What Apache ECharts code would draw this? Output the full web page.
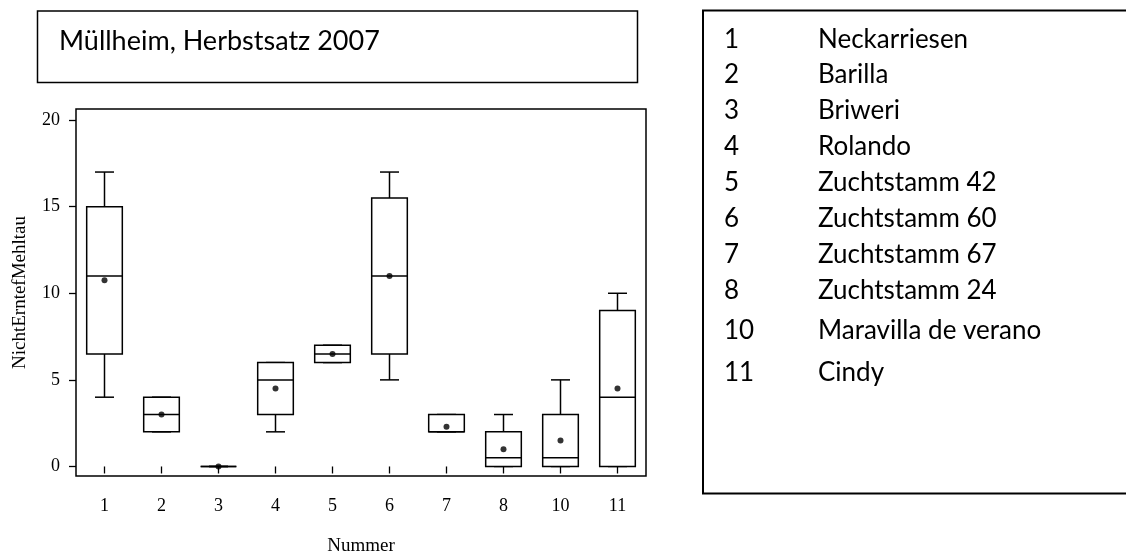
<!DOCTYPE html>
<html>
<head>
<meta charset="utf-8">
<script src="https://cdn.jsdelivr.net/npm/echarts@6/dist/echarts.min.js"></script>
<style>html,body{margin:0;padding:0;background:#fff;}#c{width:1126px;height:554px;}</style>
</head>
<body>
<div id="c"></div>
<script>
// ---- data ----
var categories = ['1','2','3','4','5','6','7','8','10','11'];
var mins    = [4,   2, 0, 2, 6,   5,    2,   0,   0,   0];
var q1s     = [6.5, 2, 0, 3, 6,   6.5,  2,   0,   0,   0];
var medians = [11,  3, 0, 5, 6.5, 11,   2,   0.5, 0.5, 4];
var q3s     = [15,  4, 0, 6, 7,   15.5, 3,   2,   3,   9];
var maxs    = [17,  4, 0, 6, 7,   17,   3,   3,   5,   10];
var means   = [10.75, 3, 0, 4.5, 6.5, 11, 2.3, 1, 1.5, 4.5];
var yTicks  = [0, 5, 10, 15, 20];
var varietyNames = ['Neckarriesen','Barilla','Briweri','Rolando','Zuchtstamm 42','Zuchtstamm 60','Zuchtstamm 67','Zuchtstamm 24','Maravilla de verano','Cindy'];
var titleText = 'Müllheim, Herbstsatz 2007';

var boxData = categories.map(function (c, i) { return [i, mins[i], q1s[i], medians[i], q3s[i], maxs[i]]; });
var meanData = categories.map(function (c, i) { return [i, means[i]]; });

var serif = '"Liberation Serif", "DejaVu Serif", serif';
var sans = 'Lato, "Open Sans", sans-serif';

var legendRowY = [40, 75, 111, 147, 183, 219, 255, 291, 331, 373];
var graphics = [
  { type: 'rect', shape: { x: 37.5, y: 11, width: 600, height: 71.5 }, style: { fill: 'none', stroke: '#000', lineWidth: 1.5 } },
  { type: 'text', style: { x: 59, y: 41, text: titleText, font: '27px ' + sans, fill: '#000', verticalAlign: 'middle' } },
  { type: 'rect', shape: { x: 703, y: 10.5, width: 430, height: 483 }, style: { fill: 'none', stroke: '#000', lineWidth: 2 } }
];
categories.forEach(function (c, i) {
  graphics.push({ type: 'text', style: { x: 724, y: legendRowY[i], text: c, font: '26px ' + sans, fill: '#000', verticalAlign: 'middle' } });
  graphics.push({ type: 'text', style: { x: 818, y: legendRowY[i], text: varietyNames[i], font: '26px ' + sans, fill: '#000', verticalAlign: 'middle' } });
});

var chart = echarts.init(document.getElementById('c'), null, { renderer: 'canvas' });
chart.setOption({
  animation: false,
  backgroundColor: '#fff',
  grid: { left: 76, top: 109, right: 480, bottom: 78, containLabel: false, outerBoundsMode: 'none', show: true, borderColor: '#000', borderWidth: 1.5, backgroundColor: 'transparent' },
  xAxis: {
    type: 'category',
    data: categories,
    boundaryGap: true,
    name: 'Nummer',
    nameLocation: 'middle',
    nameGap: 61,
    nameTextStyle: { fontFamily: serif, fontSize: 19, color: '#000' },
    axisLine: { show: false },
    axisTick: { show: true, alignWithLabel: true, length: 7, lineStyle: { color: '#000', width: 1.3 } },
    axisLabel: { fontFamily: serif, fontSize: 18, color: '#000', margin: 21 },
    splitLine: { show: false }
  },
  yAxis: {
    type: 'value',
    min: -0.55,
    max: 20.64,
    name: 'NichtErntefMehltau',
    nameLocation: 'middle',
    nameGap: 46,
    nameRotate: 90,
    nameTextStyle: { fontFamily: serif, fontSize: 19, color: '#000' },
    axisLine: { show: false },
    axisTick: { show: true, length: 7, customValues: yTicks, lineStyle: { color: '#000', width: 1.3 } },
    axisLabel: { fontFamily: serif, fontSize: 18, color: '#000', margin: 16, customValues: yTicks },
    splitLine: { show: false }
  },
  graphic: graphics,
  series: [
    {
      type: 'custom',
      data: boxData,
      encode: { x: 0, y: [1, 2, 3, 4, 5] },
      renderItem: function (params, api) {
        var i = api.value(0);
        var pMin = api.coord([i, api.value(1)]);
        var pQ1 = api.coord([i, api.value(2)]);
        var pMed = api.coord([i, api.value(3)]);
        var pQ3 = api.coord([i, api.value(4)]);
        var pMax = api.coord([i, api.value(5)]);
        var w = api.size([1, 0])[0];
        var hb = w * 0.3125, hc = w * 0.167;
        var cx = pMin[0];
        var st = { stroke: '#000', lineWidth: 1.5, fill: 'none' };
        return {
          type: 'group',
          children: [
            { type: 'line', shape: { x1: cx, y1: pMin[1], x2: cx, y2: pQ1[1] }, style: st },
            { type: 'line', shape: { x1: cx, y1: pQ3[1], x2: cx, y2: pMax[1] }, style: st },
            { type: 'line', shape: { x1: cx - hc, y1: pMin[1], x2: cx + hc, y2: pMin[1] }, style: st },
            { type: 'line', shape: { x1: cx - hc, y1: pMax[1], x2: cx + hc, y2: pMax[1] }, style: st },
            { type: 'rect', shape: { x: cx - hb, y: pQ3[1], width: 2 * hb, height: pQ1[1] - pQ3[1] }, style: { stroke: '#000', lineWidth: 1.5, fill: '#fff' } },
            { type: 'line', shape: { x1: cx - hb, y1: pMed[1], x2: cx + hb, y2: pMed[1] }, style: st }
          ]
        };
      },
      z: 2
    },
    {
      type: 'scatter',
      data: meanData,
      symbol: 'circle',
      symbolSize: 6,
      itemStyle: { color: '#000' },
      z: 3
    }
  ]
});
</script>
</body>
</html>
